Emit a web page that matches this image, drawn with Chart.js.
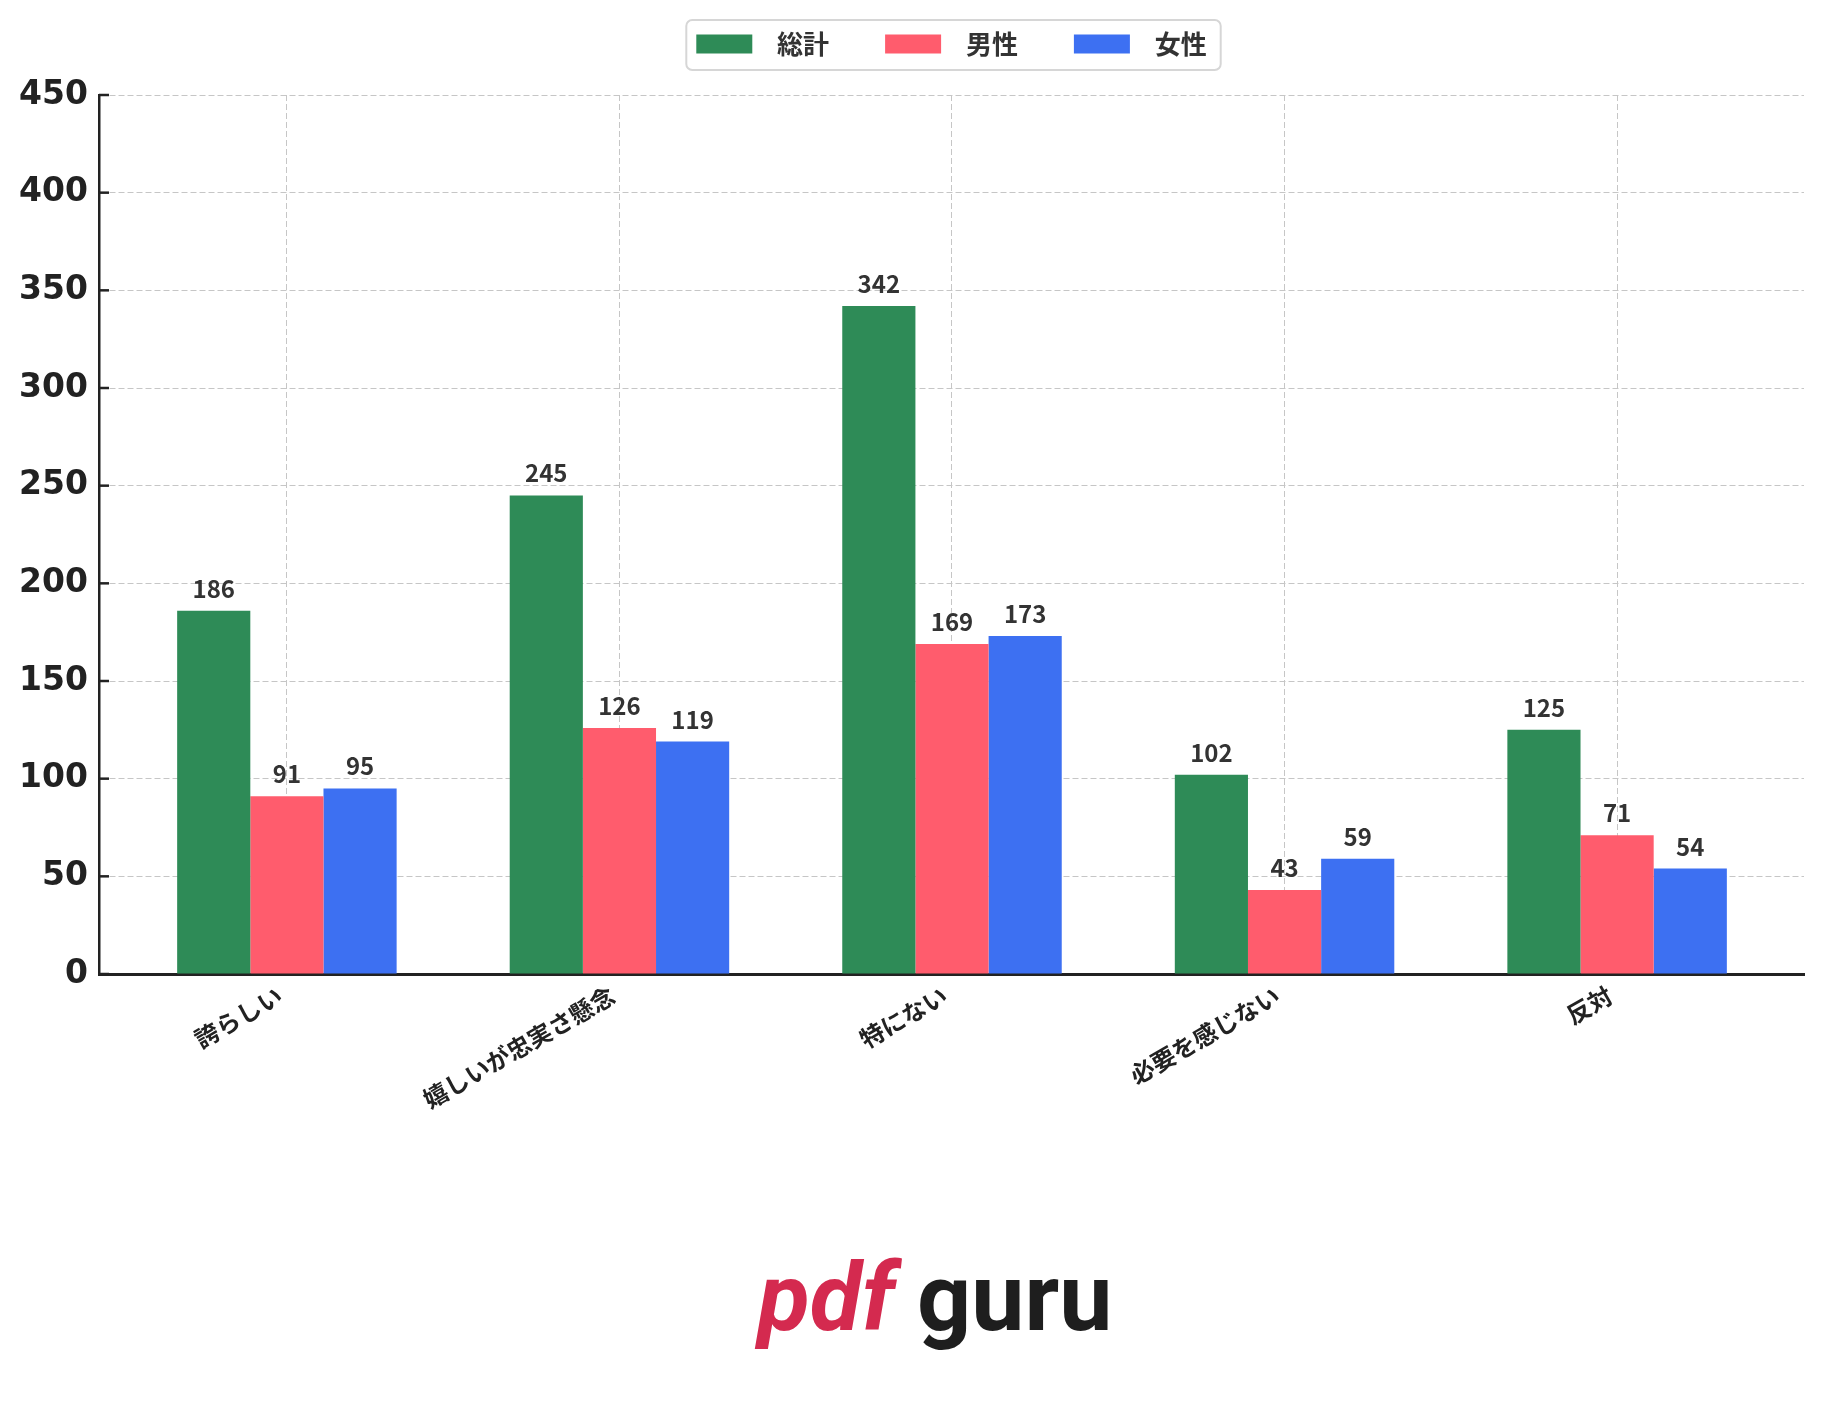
<!DOCTYPE html>
<html>
<head>
<meta charset="utf-8">
<script src="https://cdn.jsdelivr.net/npm/chart.js@4.4.1/dist/chart.umd.min.js"></script>
<style>
  html, body { margin: 0; padding: 0; background: #fff; }
  #wrap { width: 1824px; height: 1426px; position: relative; }
</style>
</head>
<body>
<div id="wrap"><canvas id="grafic"></canvas></div>
<script>
const categories = ['誇らしい', '嬉しいが忠実さ懸念', '特にない', '必要を感じない', '反対'];
const seriesNames = ['総計', '男性', '女性'];
const totalValues = [186, 245, 342, 102, 125];
const maleValues = [91, 126, 169, 43, 71];
const femaleValues = [95, 119, 173, 59, 54];
const seriesColors = ['#2e8b57', '#ff5c6d', '#3d70f2'];
const yMin = 0, yMax = 450, yStep = 50;

const jpFont = '"Noto Sans CJK JP", "Noto Sans", sans-serif';

function toPoints(values) {
  return values.map((v, i) => ({ x: i, y: v }));
}

// box drawn round the legend items
const legendFrame = {
  id: 'legendFrame',
  afterDraw(chart) {
    const boxes = chart.legend.legendHitBoxes;
    if (!boxes || !boxes.length) return;
    const ctx = chart.ctx;
    let left = Math.min(...boxes.map(b => b.left)) - 10;
    let right = Math.max(...boxes.map(b => b.left + b.width)) + 14;
    let mid = boxes[0].top + boxes[0].height / 2;
    ctx.save();
    ctx.strokeStyle = '#d6d6d6';
    ctx.lineWidth = 2;
    ctx.beginPath();
    ctx.roundRect(left, mid - 24, right - left, 50, 6);
    ctx.stroke();
    ctx.restore();
  }
};

// value on top of each bar
const barValues = {
  id: 'barValues',
  afterDatasetsDraw(chart) {
    const ctx = chart.ctx;
    ctx.save();
    ctx.font = 'bold 24px ' + jpFont;
    ctx.fillStyle = '#333';
    ctx.textAlign = 'center';
    ctx.textBaseline = 'alphabetic';
    chart.data.datasets.forEach((ds, i) => {
      chart.getDatasetMeta(i).data.forEach((bar, j) => {
        ctx.fillText(String(ds.data[j].y), bar.x, bar.y - 13);
      });
    });
    ctx.restore();
  }
};

// short inward tick marks on the y axis
const yInTicks = {
  id: 'yInTicks',
  afterDraw(chart) {
    const s = chart.scales.y;
    const ctx = chart.ctx;
    ctx.save();
    ctx.strokeStyle = '#222';
    ctx.lineWidth = 2.5;
    s.ticks.forEach(t => {
      const y = s.getPixelForValue(t.value);
      ctx.beginPath();
      ctx.moveTo(chart.chartArea.left, y);
      ctx.lineTo(chart.chartArea.left + 10, y);
      ctx.stroke();
    });
    ctx.restore();
  }
};

const watermark = {
  id: 'watermark',
  afterDraw(chart) {
    const ctx = chart.ctx;
    ctx.save();
    ctx.textAlign = 'left';
    ctx.textBaseline = 'alphabetic';
    ctx.font = 'italic bold 95px Roboto';
    ctx.fillStyle = '#d42a4f';
    ctx.fillText('pdf', 758, 1330);
    ctx.font = 'bold 95px Roboto';
    ctx.fillStyle = '#1e1e1e';
    ctx.fillText('guru', 917, 1330);
    ctx.restore();
  }
};

window.onload = function () {
  const ctx = document.getElementById('grafic').getContext('2d');
  const baseLabels = Chart.defaults.plugins.legend.labels.generateLabels;

  new Chart(ctx, {
    type: 'bar',
    data: {
      datasets: [
        { label: seriesNames[0], data: toPoints(totalValues), backgroundColor: seriesColors[0] },
        { label: seriesNames[1], data: toPoints(maleValues), backgroundColor: seriesColors[1] },
        { label: seriesNames[2], data: toPoints(femaleValues), backgroundColor: seriesColors[2] }
      ]
    },
    options: {
      responsive: true,
      maintainAspectRatio: false,
      animation: false,
      categoryPercentage: 0.66,
      barPercentage: 1.0,
      layout: { padding: { top: -25, right: 20, left: 0, bottom: 0 } },
      plugins: {
        tooltip: { enabled: false },
        // empty title used only as a gap between legend and plot
        title: {
          display: true,
          text: '',
          weight: 500,
          fullSize: false,
          padding: 0,
          font: { size: 28, lineHeight: 1 }
        },
        legend: {
          position: 'top',
          fullSize: false,
          maxHeight: 119,
          labels: {
            boxWidth: 56,
            boxHeight: 19,
            padding: 56,
            color: '#333',
            font: { family: jpFont, weight: 'bold', size: 26 },
            generateLabels: (chart) => baseLabels(chart).map(l => {
              l.text = '  ' + l.text;
              l.lineWidth = 0;
              return l;
            })
          }
        }
      },
      scales: {
        x: {
          type: 'linear',
          min: -0.565,
          max: 4.562,
          offset: false,
          afterBuildTicks: (s) => { s.ticks = categories.map((c, i) => ({ value: i })); },
          afterFit: (s) => { s.height = 452; },
          grid: { offset: false, color: '#c6c6c6', lineWidth: 1, drawTicks: false },
          border: { color: '#222', width: 3, dash: [6, 3] },
          ticks: {
            autoSkip: false,
            minRotation: 30,
            maxRotation: 30,
            padding: 7,
            labelOffset: -7,
            color: '#222',
            font: { family: jpFont, weight: 'bold', size: 24 },
            callback: (v) => categories[v]
          }
        },
        y: {
          min: yMin,
          max: yMax,
          afterFit: (s) => { s.width = 99; },
          grid: { color: '#c6c6c6', lineWidth: 1, drawTicks: false },
          border: { color: '#222', width: 2.5, dash: [6, 3] },
          ticks: {
            stepSize: yStep,
            padding: 11,
            color: '#222',
            font: { family: 'DejaVu Sans', weight: 'bold', size: 33 }
          }
        }
      }
    },
    plugins: [legendFrame, barValues, yInTicks, watermark]
  });
};
</script>
</body>
</html>
